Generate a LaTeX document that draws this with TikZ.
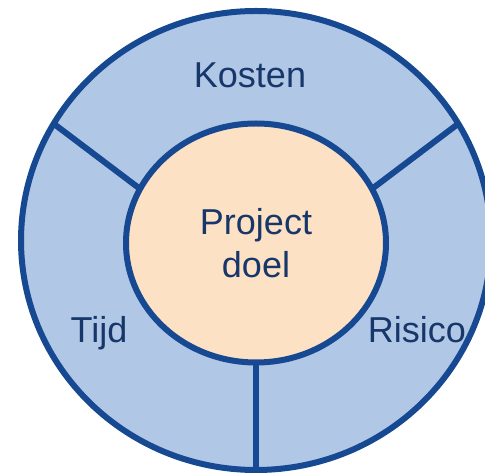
\documentclass[tikz,border=0pt]{standalone}
\usepackage{fontspec}
\setmainfont{Liberation Sans}
\usetikzlibrary{shapes.geometric}
\definecolor[named]{PDBlue}{RGB}{22,73,145}
\definecolor[named]{PDRing}{RGB}{176,199,230}
\definecolor[named]{PDCore}{RGB}{253,225,196}
\definecolor[named]{PDText}{RGB}{23,55,106}
\tikzset{pdp/.style={
  x=1pt,
  y=1pt,
  line width=6pt
}}
\tikzset{rng/.style={
  draw=PDBlue,
  shape=ellipse,
  inner sep=0pt,
  outer sep=0pt
}}
\tikzset{lbl/.style={
  text=PDText,
  font=\fontsize{36}{43}\selectfont,
  inner sep=0pt
}}

\begin{document}
\begin{tikzpicture}[pdp]
    \useasboundingbox (0,0) rectangle (485,474);

    %% Rings

    % Outer ring
    \node[rng, fill=PDRing, minimum width=470, minimum height=459]
      (ring) at (256,233.5) {};
    % Core with the goal
    \node[rng, fill=PDCore, minimum width=260, minimum height=239,
      lbl, align=center] (core) at (256,231) {Project\\doel};

    %% Spokes
    \draw[PDBlue] (core.155) -- (ring.150);
    \draw[PDBlue] (core.25) -- (ring.30);
    \draw[PDBlue] (core.south) -- (ring.south);

    %% Sector labels
    \node[lbl, anchor=base] (kosten) at (250,386) {Kosten};
    \node[lbl, anchor=base] (tijd) at (99,131) {Tijd};
    \node[lbl, anchor=base] (risico) at (417,131) {Risico};

\end{tikzpicture}
\end{document}
